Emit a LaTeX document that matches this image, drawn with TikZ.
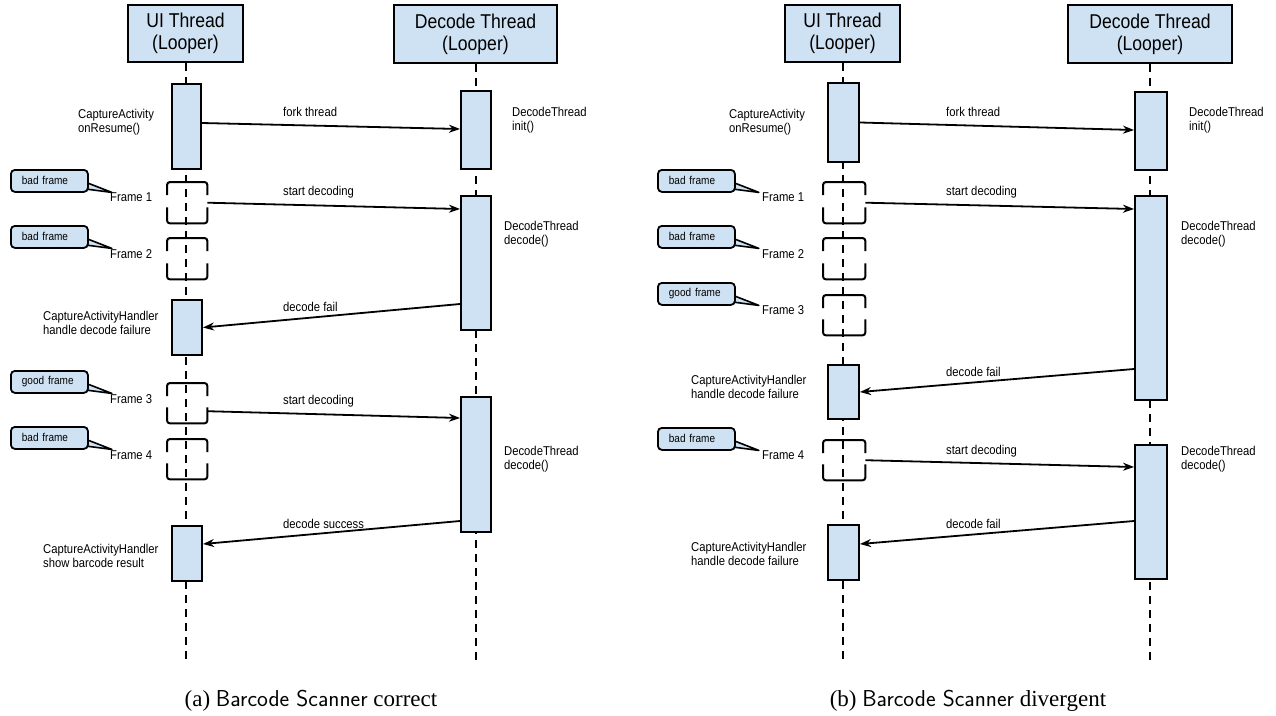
\documentclass[tikz,border=0pt]{standalone}
\usepackage{fontspec}
\usetikzlibrary{arrows.meta,backgrounds}
\newfontfamily\dfont{Liberation Sans}[FakeStretch=0.88]
\newfontfamily\capserif{Liberation Serif}
\definecolor{lb}{HTML}{CFE2F3}
\tikzset{
 hdr/.style={draw, line width=2.2pt, fill=lb, inner sep=0pt, align=center, font=\dfont\fontsize{20}{22}\selectfont},
 act/.style={draw, line width=2pt, fill=lb, inner sep=0pt, anchor=north west},
 frm/.style={inner sep=0pt, anchor=north west},
 lifeline/.style={line width=2pt, dash pattern=on 8pt off 6pt},
 msg/.style={line width=1.8pt, -{Stealth[length=11pt,width=8pt,inset=3.5pt]}},
 lbl/.style={inner sep=0pt, anchor=west, align=left, font=\dfont\fontsize{12.8}{13.5}\selectfont},
 callout/.style={draw, fill=lb, line width=1.8pt, rounded corners=4pt, inner ysep=0pt, inner xsep=11pt, text width=55pt, align=left, minimum height=22pt, anchor=north west, font=\dfont\fontsize{11.4}{13}\selectfont},
 tail/.style={fill=lb, draw, line width=1.6pt, line join=round},
 brk/.style={line width=2pt, rounded corners=3pt},
 capt/.style={font=\capserif\fontsize{23}{25}\selectfont, inner sep=0pt},
}
\newcommand{\mkcallout}[4]{%
 \node[callout] (#1) at (#2,#3) {#4};
 \begin{pgfonlayer}{background}
 \draw[tail] ([xshift=-4pt,yshift=-1pt]#1.east) -- ([shift={(23,11.5)}]#1.east) -- ([xshift=-4pt,yshift=-8pt]#1.east) -- cycle;
 \end{pgfonlayer}}
\newcommand{\mkframe}[5]{%
 \node[frm, minimum width=#4pt, minimum height=#5pt] (#1) at (#2,#3) {};
 \draw[brk] ([yshift=-13pt]#1.north west) -- (#1.north west) -- (#1.north east) -- ([yshift=-13pt]#1.north east);
 \draw[brk] ([yshift=16pt]#1.south west) -- (#1.south west) -- (#1.south east) -- ([yshift=16pt]#1.south east);}
\begin{document}
\begin{tikzpicture}[x=1pt,y=-1pt]
\useasboundingbox (0,0) rectangle (1276,715);

% ================= LEFT (a) =================
\node[hdr, minimum width=115pt, minimum height=57pt] (Lui) at (185.5,33.5) {UI Thread\\(Looper)};
\node[hdr, minimum width=163pt, minimum height=58pt] (Ldec) at (475.5,34) {Decode Thread\\(Looper)};
\coordinate (LuiEnd) at (185.5,665);
\coordinate (LdecEnd) at (475.5,665);
\draw[lifeline] (Lui.south) -- (LuiEnd);
\draw[lifeline] (Ldec.south) -- (LdecEnd);

\node[act, minimum width=29pt, minimum height=85pt] (La1) at (171,83) {};
\node[act, minimum width=30pt, minimum height=78pt] (Ld1) at (460,90) {};
\node[act, minimum width=30pt, minimum height=134pt] (Ld2) at (460,195) {};
\node[act, minimum width=30pt, minimum height=55pt] (Lh1) at (171,299) {};
\node[act, minimum width=30pt, minimum height=135pt] (Ld3) at (460,396) {};
\node[act, minimum width=30pt, minimum height=55pt] (Ls1) at (171,525) {};

\mkframe{Lf1}{167}{182}{40}{41}
\mkframe{Lf2}{167}{238}{40}{41}
\mkframe{Lf3}{167}{383}{40}{40}
\mkframe{Lf4}{167}{439}{40}{40}

\draw[msg] ([yshift=3.5pt]La1.east) -- ([yshift=1pt]Ld1.west);
\draw[msg] (Lf1.east) -- ([yshift=-14pt]Ld2.north west);
\draw[msg] ([yshift=27pt]Ld2.south west) -- (Lh1.east);
\draw[msg] ([yshift=-8pt]Lf3.east) -- ([yshift=-22pt]Ld3.north west);
\draw[msg] ([yshift=12pt]Ld3.south west) -- ([yshift=9.5pt]Ls1.east);

\node[lbl] (Lm1) at (283,112) {fork thread};
\node[lbl] (Lm2) at (283,192) {start decoding};
\node[lbl] (Lm3) at (283,307) {decode fail};
\node[lbl] (Lm4) at (283,401) {start decoding};
\node[lbl] (Lm5) at (283,524) {decode success};

\node[lbl] (Lt1) at (78,122) {CaptureActivity\\onResume()};
\node[lbl] (Lt2) at (512,120) {DecodeThread\\init()};
\node[lbl] (Lt3) at (504,234) {DecodeThread\\decode()};
\node[lbl] (Lt4) at (43,323) {CaptureActivityHandler\\handle decode failure};
\node[lbl] (Lt5) at (504,459) {DecodeThread\\decode()};
\node[lbl] (Lt6) at (43,556) {CaptureActivityHandler\\show barcode result};

\node[lbl] (Lfl1) at (110,197) {Frame 1};
\node[lbl] (Lfl2) at (110,254) {Frame 2};
\node[lbl] (Lfl3) at (110,399) {Frame 3};
\node[lbl] (Lfl4) at (110,455) {Frame 4};

\mkcallout{Lc1}{10}{169}{bad frame}
\mkcallout{Lc2}{10}{225}{bad frame}
\mkcallout{Lc3}{10}{370}{good frame}
\mkcallout{Lc4}{10}{426}{bad frame}

\node[capt] (Lcap) at (311,701) {(a) {\sffamily Barcode Scanner} correct};

% ================= RIGHT (b) =================
\node[hdr, minimum width=115pt, minimum height=57pt] (Rui) at (842.5,33.5) {UI Thread\\(Looper)};
\node[hdr, minimum width=164pt, minimum height=58pt] (Rdec) at (1150,34) {Decode Thread\\(Looper)};
\coordinate (RuiEnd) at (842.5,665);
\coordinate (RdecEnd) at (1150,665);
\draw[lifeline] (Rui.south) -- (RuiEnd);
\draw[lifeline] (Rdec.south) -- (RdecEnd);

\node[act, minimum width=31pt, minimum height=79pt] (Ra1) at (827,82) {};
\node[act, minimum width=32pt, minimum height=78pt] (Rd1) at (1134,91) {};
\node[act, minimum width=32pt, minimum height=204pt] (Rd2) at (1134,195) {};
\node[act, minimum width=31pt, minimum height=54pt] (Rh1) at (827,364) {};
\node[act, minimum width=32pt, minimum height=134pt] (Rd3) at (1134,444) {};
\node[act, minimum width=31pt, minimum height=55pt] (Rh2) at (827,524) {};

\mkframe{Rf1}{823}{182}{42}{41}
\mkframe{Rf2}{823}{238}{42}{41}
\mkframe{Rf3}{823}{295}{42}{40}
\mkframe{Rf4}{823}{440}{42}{40}

\draw[msg] (Ra1.east) -- ([yshift=1pt]Rd1.west);
\draw[msg] (Rf1.east) -- ([yshift=-14pt]Rd2.north west);
\draw[msg] ([yshift=32pt]Rd2.south west) -- (Rh1.east);
\draw[msg] (Rf4.east) -- ([yshift=-23pt]Rd3.north west);
\draw[msg] ([yshift=59pt]Rd3.south west) -- ([yshift=8.5pt]Rh2.east);

\node[lbl] (Rm1) at (946,112) {fork thread};
\node[lbl] (Rm2) at (946,192) {start decoding};
\node[lbl] (Rm3) at (946,372) {decode fail};
\node[lbl] (Rm4) at (946,451) {start decoding};
\node[lbl] (Rm5) at (946,524) {decode fail};

\node[lbl] (Rt1) at (729,122) {CaptureActivity\\onResume()};
\node[lbl] (Rt2) at (1189,120) {DecodeThread\\init()};
\node[lbl] (Rt3) at (1181,234) {DecodeThread\\decode()};
\node[lbl] (Rt4) at (691,387) {CaptureActivityHandler\\handle decode failure};
\node[lbl] (Rt5) at (1181,459) {DecodeThread\\decode()};
\node[lbl] (Rt6) at (691,554) {CaptureActivityHandler\\handle decode failure};

\node[lbl] (Rfl1) at (762,197) {Frame 1};
\node[lbl] (Rfl2) at (762,254) {Frame 2};
\node[lbl] (Rfl3) at (762,310) {Frame 3};
\node[lbl] (Rfl4) at (762,455) {Frame 4};

\mkcallout{Rc1}{657}{169}{bad frame}
\mkcallout{Rc2}{657}{225}{bad frame}
\mkcallout{Rc3}{657}{282}{good frame}
\mkcallout{Rc4}{657}{427}{bad frame}

\node[capt] (Rcap) at (968,701) {(b) {\sffamily Barcode Scanner} divergent};
\end{tikzpicture}
\end{document}
